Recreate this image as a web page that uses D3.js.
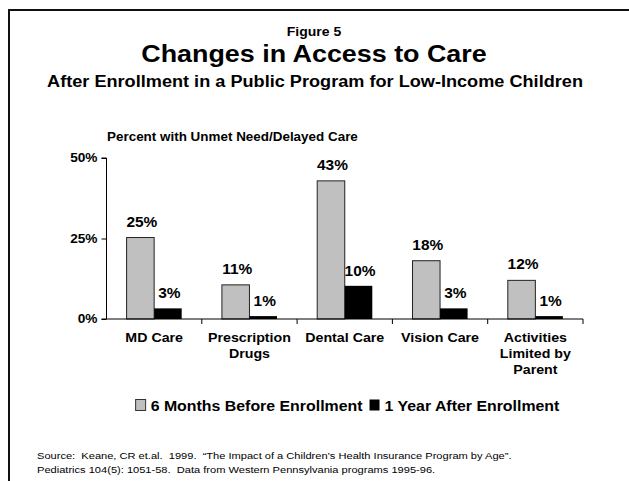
<!DOCTYPE html>
<html>
<head>
<meta charset="utf-8">
<script src="https://cdn.jsdelivr.net/npm/d3@7"></script>
<style>
  body { margin: 0; background: #fff; }
  text { font-family: "Liberation Sans", Arial, sans-serif; fill: #000; white-space: pre; }
</style>
</head>
<body>
<div id="chart"></div>
<script>
var categories = ["MD Care", "Prescription\nDrugs", "Dental Care", "Vision Care", "Activities\nLimited by\nParent"];
var seriesNames = ["6 Months Before Enrollment", "1 Year After Enrollment"];
var before = [25.3, 10.6, 42.9, 18.1, 12.0];
var after = [3.3, 0.9, 10.3, 3.3, 0.9];
var yTicks = [0, 25, 50];
var sourceLines = [
    "Source:  Keane, CR et.al.  1999.  \u201cThe Impact of a Children\u2019s Health Insurance Program by Age\u201d.",
    "Pediatrics 104(5): 1051-58.  Data from Western Pennsylvania programs 1995-96."
];

function init() {

    var w = 629;
    var h = 481;
    var sx = 1.12;   // the original slide is stretched sideways

    var svg = d3.select("#chart")
                .append("svg")
                .attr("width", w)
                .attr("height", h);

    // put a stretched text at x, y
    function label(parent, x, y, str, size, bold, anchor) {
        return parent.append("text")
                     .attr("transform", "translate(" + x + "," + y + ") scale(" + sx + ",1)")
                     .attr("text-anchor", anchor || "middle")
                     .style("font-size", size + "px")
                     .style("font-weight", bold ? "bold" : "normal")
                     .text(str);
    }

    // frame (cut off on the right and bottom)
    svg.append("path")
       .attr("d", "M9,481 V10 H629")
       .attr("fill", "none")
       .attr("stroke", "#111")
       .attr("stroke-width", 2);

    label(svg, 314, 36, "Figure 5", 12.5, true);
    label(svg, 314, 61.5, "Changes in Access to Care", 24, true);
    label(svg, 315, 87, "After Enrollment in a Public Program for Low-Income Children", 16.2, true);
    label(svg, 107, 141, "Percent with Unmet Need/Delayed Care", 12, true, "start");

    var xScale = d3.scaleBand()
                   .domain(d3.range(categories.length))
                   .range([106.5, 583]);

    var subScale = d3.scaleBand()
                     .domain(d3.range(seriesNames.length))
                     .range([0, xScale.bandwidth()])
                     .paddingOuter(0.73);

    var yScale = d3.scaleLinear()
                   .domain([0, 50])
                   .range([319, 158]);

    var colors = ["#c0c0c0", "#000"];
    var series = [before, after];

    var groups = svg.selectAll("g.series")
                    .data(series)
                    .enter()
                    .append("g")
                    .attr("class", "series");

    groups.selectAll("rect")
          .data(function(d, s) { return d.map(function(v, i) { return { v: v, i: i, s: s }; }); })
          .enter()
          .append("rect")
          .attr("x", function(d) { return xScale(d.i) + subScale(d.s); })
          .attr("y", function(d) { return yScale(d.v); })
          .attr("width", subScale.bandwidth())
          .attr("height", function(d) { return yScale(0) - yScale(d.v); })
          .attr("fill", function(d) { return colors[d.s]; })
          .attr("stroke", function(d) { return d.s === 0 ? "#222" : "none"; })
          .attr("stroke-width", 1);

    groups.selectAll("text")
          .data(function(d, s) { return d.map(function(v, i) { return { v: v, i: i, s: s }; }); })
          .enter()
          .append("text")
          .attr("transform", function(d) {
              var x = xScale(d.i) + subScale(d.s) + subScale.bandwidth() / 2 + 1.5;
              var y = yScale(d.v) - (d.s === 0 ? 11 : 10);
              return "translate(" + x + "," + y + ") scale(" + sx + ",1)";
          })
          .attr("text-anchor", "middle")
          .style("font-size", "13.8px")
          .style("font-weight", "bold")
          .text(function(d) { return Math.round(d.v) + "%"; });

    // y axis
    var yAxis = d3.axisLeft(yScale)
                  .tickValues(yTicks)
                  .tickSize(5)
                  .tickPadding(4)
                  .tickFormat(function(d) { return d + "%"; });

    var gy = svg.append("g")
                .attr("transform", "translate(106.5, 0)")
                .call(yAxis);
    gy.select(".domain").attr("d", "M-5," + yScale(50) + "H0V" + yScale(0) + "H-5");
    gy.selectAll(".tick text")
      .attr("x", null)
      .attr("transform", "translate(-9,0) scale(" + sx + ",1)")
      .style("font-size", "12.2px")
      .style("font-weight", "bold")
      .style("font-family", "'Liberation Sans', Arial, sans-serif");

    // x axis: ticks sit between the categories
    var gx = svg.append("g")
                .attr("transform", "translate(0," + yScale(0) + ")");
    gx.append("line")
      .attr("x1", 106.5).attr("x2", 583)
      .attr("stroke", "#000");
    gx.selectAll("line.tick")
      .data(d3.range(1, categories.length + 1))
      .enter()
      .append("line")
      .attr("class", "tick")
      .attr("x1", function(i) { return xScale(0) + i * xScale.step(); })
      .attr("x2", function(i) { return xScale(0) + i * xScale.step(); })
      .attr("y1", 0).attr("y2", 5)
      .attr("stroke", "#000");

    categories.forEach(function(c, i) {
        c.split("\n").forEach(function(line, k) {
            label(svg, xScale(i) + xScale.bandwidth() / 2, 342 + k * 16, line, 12.7, true);
        });
    });

    // legend, centred under the plot
    var legend = svg.append("g");
    var items = seriesNames.map(function(name, s) {
        var t = label(legend, 0, 411, name, 14.2, true, "start");
        return { t: t, w: t.node().getComputedTextLength() * sx, s: s };
    });
    var box = 10, gap = 5, sep = 7;
    var total = d3.sum(items, function(d) { return box + gap + d.w; }) + sep;
    var x = 347.5 - total / 2;
    items.forEach(function(d) {
        legend.append("rect")
              .attr("x", x).attr("y", 399.5)
              .attr("width", box).attr("height", 11)
              .attr("fill", colors[d.s])
              .attr("stroke", d.s === 0 ? "#333" : "none");
        d.t.attr("transform", "translate(" + (x + box + gap) + ",411) scale(" + sx + ",1)");
        x += box + gap + d.w + sep;
    });

    sourceLines.forEach(function(line, k) {
        label(svg, 37, 459 + k * 14, line, 9.9, false, "start");
    });
}

window.onload = init;
</script>
</body>
</html>
